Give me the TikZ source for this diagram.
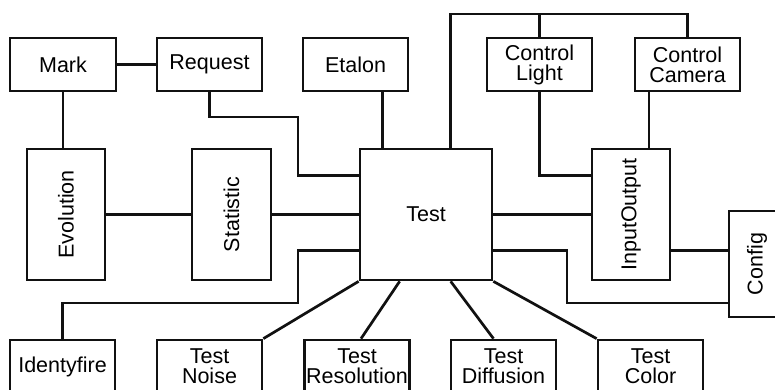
\documentclass[tikz,border=0pt]{standalone}
\usepackage{fontspec}
\setmainfont{Liberation Sans}
\usetikzlibrary{calc}
\definecolor{strich}{HTML}{111111}
\tikzset{
  modul/.style={draw=strich,line width=2.7pt,inner sep=0pt,minimum width=105pt,minimum height=53pt,align=center,font=\fontsize{21.5}{20}\selectfont},
  hoch/.style={modul,minimum height=131pt},
  linie/.style={strich,line width=2.7pt},
}

\begin{document}
\begin{tikzpicture}[x=1pt,y=-1pt]
  \useasboundingbox (0,0) rectangle (775,390);
  \clip (0,0) rectangle (775,390);
  % Knickpunkte
  \coordinate (oben) at (0,14);
  \coordinate (knickA) at (298,117);
  \coordinate (knickB) at (298,303);
  \coordinate (knickC) at (567,303);
  % Module
  \node[modul,minimum width=106pt] (mark) at (63,64.5) {Mark};
  \node[modul] (req) at (209.5,64.5) {Request};
  \node[modul] (etalon) at (355.5,64.5) {Etalon};
  \node[modul] (clight) at (539.5,64.5) {Control\\Light};
  \node[modul] (ccam) at (687.5,64.5) {Control\\Camera};
  \node[hoch,minimum width=78pt] (evo) at (66,214.5) {\rotatebox{90}{Evolution}};
  \node[hoch,minimum width=79pt] (stat) at (231.5,214.5) {\rotatebox{90}{Statistic}};
  \node[hoch,minimum width=132pt] (test) at (426,214.5) {Test};
  \node[hoch,minimum width=78pt] (io) at (631,214.5) {\rotatebox{90}{InputOutput}};
  \node[modul,minimum width=56pt,minimum height=106pt] (config) at (757,264) {\rotatebox{90}{Config}};
  \node[modul] (ident) at (62.5,366.5) {Identyfire};
  \node[modul] (noise) at (209.5,366.5) {Test\\Noise};
  \node[modul] (res) at (357,366.5) {Test\\Resolution};
  \node[modul] (diff) at (503.5,366.5) {Test\\Diffusion};
  \node[modul] (color) at (650.5,366.5) {Test\\Color};
  % Verbindungen
  \draw[linie] (mark.east) -- (req.west);
  \draw[linie] (mark.south) -- (mark.south |- evo.north);
  \draw[linie] (req.south) |- (knickA) |- ($(test.north west)+(0,28)$);
  \draw[linie] ($(etalon.south)+(27,0)$) -- ++(0,58);
  \draw[linie] ($(test.north west)+(92,0)$) |- (ccam.north |- oben) -- (ccam.north);
  \draw[linie] (clight.north) -- (clight.north |- oben);
  \draw[linie] (clight.south) |- ($(io.north west)+(0,28)$);
  \draw[linie] ($(io.north)+(18,0)$) -- ($(io.north)+(18,-58)$);
  \draw[linie] (evo.east) -- (stat.west);
  \draw[linie] (stat.east) -- (test.west);
  \draw[linie] (test.east) -- (io.west);
  \draw[linie] ($(io.south east)+(0,-31)$) coordinate (ioc) -- (config.west |- ioc);
  \draw[linie] ($(test.south east)+(0,-31)$) -| (knickC) -- (config.west |- knickC);
  \draw[linie] (ident.north) |- (knickB) |- ($(test.south west)+(0,-31)$);
  \draw[linie] (test.south west) -- (noise.north east);
  \draw[linie] ($(test.south west)+(41,0)$) -- ($(res.north)+(4,0)$);
  \draw[linie] ($(test.south west)+(92,0)$) -- ($(diff.north)+(-10,0)$);
  \draw[linie] (test.south east) -- (color.north west);
\end{tikzpicture}
\end{document}
